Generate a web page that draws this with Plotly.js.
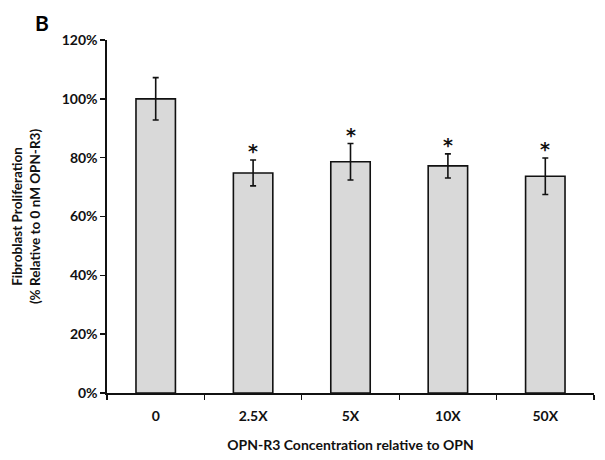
<!DOCTYPE html>
<html>
<head>
<meta charset="utf-8">
<script src="https://cdn.plot.ly/plotly-3.0.1.min.js"></script>
<style>html,body{margin:0;padding:0;background:#fff;}#chart{width:605px;height:460px;}</style>
</head>
<body>
<div id="chart"></div>
<script>
const categories = ['0', '2.5X', '5X', '10X', '50X'];
const means = [1.00, 0.748, 0.786, 0.772, 0.737];
const errors = [0.072, 0.044, 0.062, 0.041, 0.062];
const significant = [false, true, true, true, true];

const font = 'Lato, "Open Sans", "Liberation Sans", sans-serif';

const trace = {
  type: 'bar',
  x: categories,
  y: means,
  width: 0.405,
  marker: {color: '#d9d9d9', line: {color: '#111', width: 1.6}},
  error_y: {type: 'data', array: errors, visible: true, color: '#111', thickness: 1.6, width: 3},
  hoverinfo: 'skip'
};

const annotations = [];
categories.forEach((c, i) => {
  if (significant[i]) {
    annotations.push({
      x: c, y: means[i] + errors[i], xref: 'x', yref: 'y',
      text: '<b>*</b>', showarrow: false, yanchor: 'bottom', yshift: -4,
      font: {family: '"DejaVu Sans", sans-serif', size: 19, color: '#111'}
    });
  }
});
annotations.push({
  x: 0, y: 1, xref: 'paper', yref: 'paper', xanchor: 'left', yanchor: 'top',
  xshift: -74, yshift: 32,
  text: '<b>B</b>', showarrow: false, font: {family: font, size: 21, color: '#000'}
});

const layout = {
  width: 605, height: 460,
  margin: {l: 107, r: 11, t: 40, b: 67},
  paper_bgcolor: '#fff', plot_bgcolor: '#fff',
  showlegend: false,
  font: {family: font, color: '#111'},
  xaxis: {
    type: 'category', range: [-0.5, 4.5],
    showline: true, linecolor: '#111', linewidth: 1.6,
    ticks: 'outside', tickson: 'boundaries', ticklen: 5, tickcolor: '#111', tickwidth: 1.4,
    ticklabelstandoff: 10,
    tickfont: {family: font, size: 14, color: '#111', weight: 'bold'},
    showgrid: false, zeroline: false,
    title: {text: '<b>OPN-R3 Concentration relative to OPN</b>', font: {family: font, size: 14, color: '#111'}, standoff: 17}
  },
  yaxis: {
    range: [0, 1.2], dtick: 0.2, tick0: 0, tickformat: '.0%',
    showline: true, linecolor: '#111', linewidth: 1.6,
    ticks: 'outside', ticklen: 5, tickcolor: '#111', tickwidth: 1.4,
    tickfont: {family: font, size: 14, color: '#111', weight: 'bold'},
    showgrid: false, zeroline: false,
    title: {text: '<b>Fibroblast Proliferation<br>(% Relative to 0 nM OPN-R3)</b>', font: {family: font, size: 13.5, color: '#111'}, standoff: 18}
  },
  annotations: annotations
};

Plotly.newPlot('chart', [trace], layout, {displayModeBar: false, staticPlot: true});
</script>
</body>
</html>
